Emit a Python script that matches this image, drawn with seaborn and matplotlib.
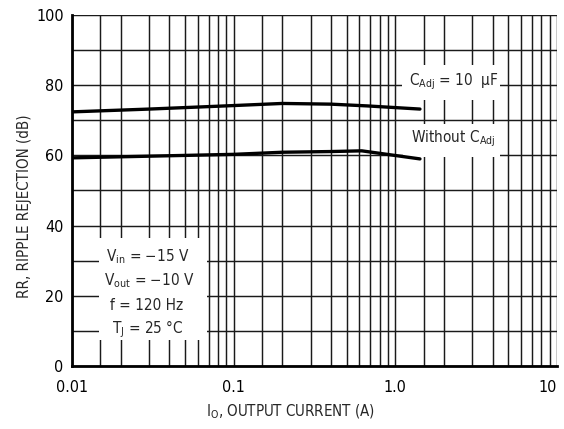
import numpy as np
import pandas as pd
import matplotlib
matplotlib.use("Agg")
import matplotlib.pyplot as plt
import seaborn as sns
from matplotlib.ticker import FixedLocator, NullFormatter, FixedFormatter
from matplotlib.patches import Rectangle
from matplotlib import font_manager as fm

# ---------------- data ----------------
current_cadj = [0.01, 0.03, 0.1, 0.2, 0.4, 0.67, 1.42]
rr_cadj = [72.4, 73.2, 74.2, 74.8, 74.6, 74.1, 73.2]
current_nocadj = [0.01, 0.1, 0.2, 0.4, 0.62, 1.42]
rr_nocadj = [59.3, 60.3, 60.9, 61.1, 61.3, 59.0]
x_ticks = [0.01, 0.1, 1.0, 10]
x_tick_labels = ["0.01", "0.1", "1.0", "10"]
y_ticks = [0, 20, 40, 60, 80, 100]

df = pd.concat([
    pd.DataFrame({"I": current_cadj, "RR": rr_cadj, "curve": "cadj"}),
    pd.DataFrame({"I": current_nocadj, "RR": rr_nocadj, "curve": "nocadj"}),
])

# ---------------- style ----------------
sns.set_theme(style="white")
fonts = fm.fontManager.ttflist
names = {f.name for f in fonts}
stretch = "normal"
if "Liberation Sans Narrow" in names:
    main_font = "Liberation Sans Narrow"
elif any(f.name == "DejaVu Sans" and f.stretch == "condensed" for f in fonts):
    main_font = "DejaVu Sans"
    stretch = "condensed"
else:
    main_font = "Liberation Sans"
plt.rcParams["font.family"] = [main_font, "DejaVu Sans"]
plt.rcParams["font.stretch"] = stretch
plt.rcParams["mathtext.fontset"] = "custom"
plt.rcParams["mathtext.rm"] = main_font
plt.rcParams["mathtext.it"] = main_font
plt.rcParams["mathtext.default"] = "regular"

FS = 11.5
FA = 11.0

fig = plt.figure(figsize=(5.64, 4.29), dpi=100)
ax = fig.add_axes([72 / 564, 1 - 366 / 429, 485 / 564, 351 / 429])

sns.lineplot(data=df, x="I", y="RR", hue="curve", palette=["black", "black"],
             linewidth=2.4, legend=False, ax=ax, zorder=5, sort=True)

ax.set_xscale("log")
ax.set_xlim(0.01, 10)
ax.set_ylim(0, 100)

minor = []
for d in [0.01, 0.1, 1.0]:
    for m in [1.5, 2, 3, 4, 5, 6, 7, 8, 9]:
        minor.append(d * m)
ax.xaxis.set_major_locator(FixedLocator(x_ticks))
ax.xaxis.set_major_formatter(FixedFormatter(x_tick_labels))
ax.xaxis.set_minor_locator(FixedLocator(minor))
ax.xaxis.set_minor_formatter(NullFormatter())
ax.yaxis.set_major_locator(FixedLocator(y_ticks))
ax.yaxis.set_minor_locator(FixedLocator(list(range(10, 100, 20))))

ax.grid(True, which="both", color="#1a1a1a", linewidth=1.05, zorder=1)
ax.set_axisbelow(True)
ax.tick_params(axis="both", which="both", length=0, labelsize=FS, colors="black")
ax.tick_params(axis="x", pad=10)
ax.tick_params(axis="y", pad=6)
for lbl in ax.get_xticklabels():
    if lbl.get_text() == "10":
        lbl.set_horizontalalignment("right")

for s in ["top", "right"]:
    ax.spines[s].set_visible(False)
for s in ["left", "bottom"]:
    ax.spines[s].set_color("black")
    ax.spines[s].set_linewidth(2.0)
    ax.spines[s].set_zorder(6)

ax.set_xlabel("I$_{O}$, OUTPUT CURRENT (A)", fontsize=10.8)
ax.set_ylabel("RR, RIPPLE REJECTION (dB)", fontsize=10.8)
ax.xaxis.set_label_coords(0.45, -0.105)
ax.yaxis.set_label_coords(-0.083, 0.455)

# white label boxes
for (x0, x1, y0, y1) in [(1.10, 4.47, 75.8, 85.8), (1.12, 4.47, 59.5, 68.9),
                         (0.0147, 0.0686, 7.4, 36.5)]:
    ax.add_patch(Rectangle((x0, y0), x1 - x0, y1 - y0, facecolor="white",
                           edgecolor="none", zorder=3))

ax.text(1.22, 80.1, "C$_{Adj}$ = 10  µF", fontsize=FA, ha="left",
        va="baseline", zorder=7)
ax.text(1.25, 63.6, "Without C$_{Adj}$", fontsize=FA, ha="left",
        va="baseline", zorder=7)
ax.text(0.0162, 29.7, "V$_{in}$ = −15 V", fontsize=FA, ha="left", va="baseline", zorder=7)
ax.text(0.0158, 23.1, "V$_{out}$ = −10 V", fontsize=FA, ha="left", va="baseline", zorder=7)
ax.text(0.0172, 16.0, "f = 120 Hz", fontsize=FA, ha="left", va="baseline", zorder=7)
ax.text(0.0177, 9.3, "T$_{J}$ = 25 °C", fontsize=FA, ha="left", va="baseline", zorder=7)

fig.savefig("out.png", dpi=100)
